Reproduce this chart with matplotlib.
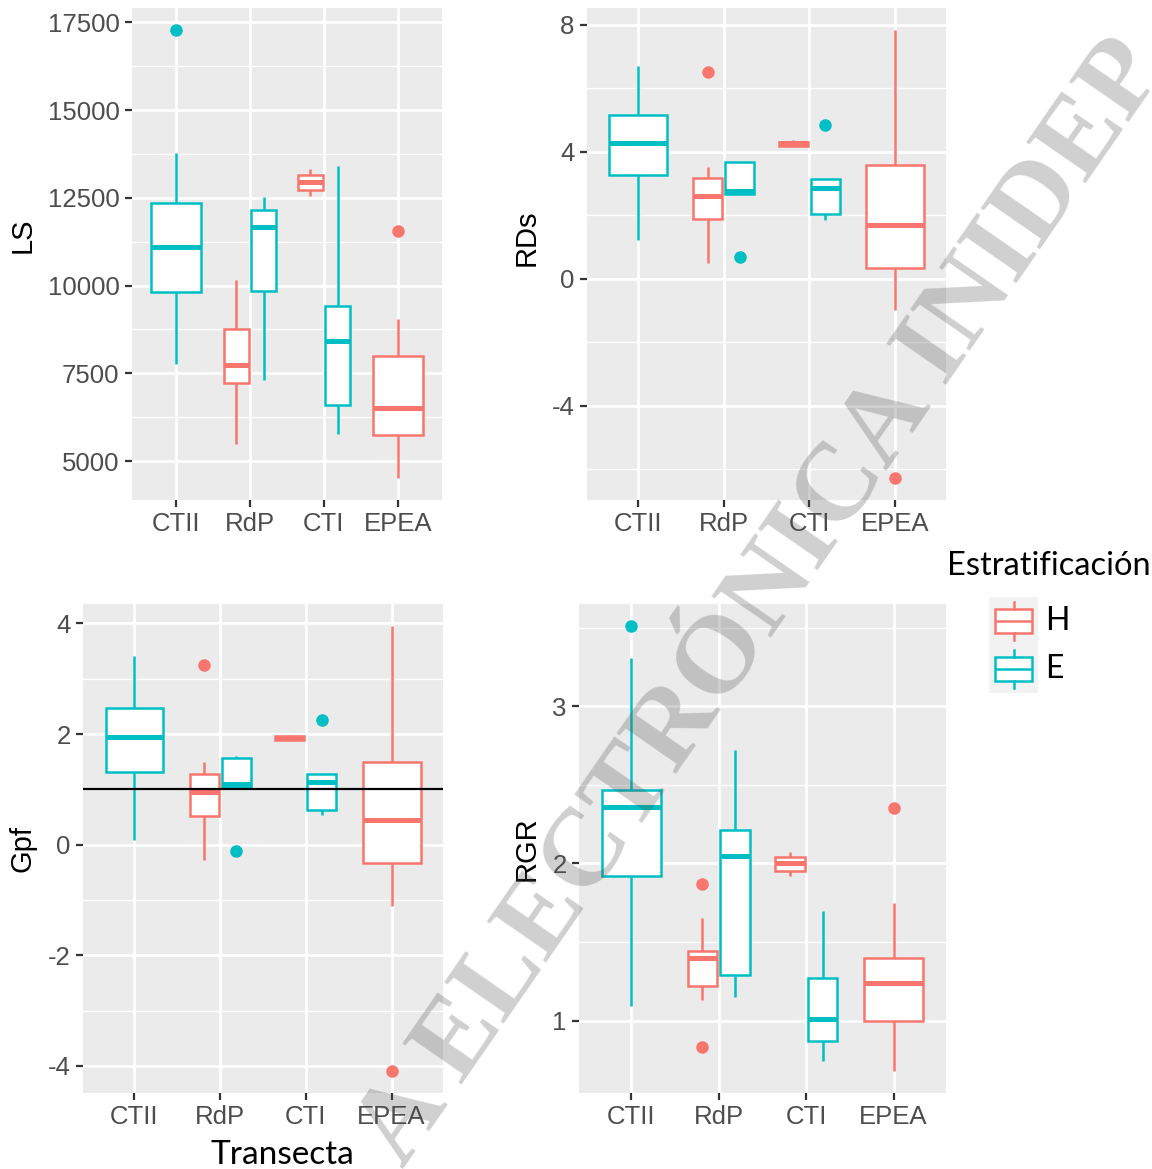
import matplotlib
matplotlib.use('Agg')
import matplotlib.pyplot as plt
from matplotlib.patches import Rectangle
from matplotlib.lines import Line2D

plt.rcParams['axes.unicode_minus'] = False

# ---------------- data ----------------
categories = ['CTII', 'RdP', 'CTI', 'EPEA']
group_labels = ['H', 'E']
legend_title = 'Estratificación'
x_title = 'Transecta'

# each entry: (whislo, q1, median, q3, whishi) per category, None when absent
LS_H = [None, (5501, 7234, 7724, 8756, 10158), (12562, 12732, 12953, 13153, 13313), (4529, 5751, 6502, 8005, 9056)]
LS_H_out = [[], [], [], [11561]]
LS_E = [(7774, 9808, 11110, 12342, 13764), (7304, 9858, 11661, 12141, 12532), (5781, 6603, 8425, 9426, 13393), None]
LS_E_out = [[17270], [], [], []]
LS_ticks = [5000, 7500, 10000, 12500, 15000, 17500]

RDs_H = [None, (0.51, 1.87, 2.62, 3.17, 3.53), (4.17, 4.20, 4.27, 4.32, 4.36), (-1.00, 0.34, 1.70, 3.59, 7.83)]
RDs_H_out = [[], [6.53], [], [-6.27]]
RDs_E = [(1.22, 3.26, 4.29, 5.17, 6.70), (2.66, 2.66, 2.78, 3.67, 3.67), (1.84, 2.03, 2.87, 3.14, 3.14), None]
RDs_E_out = [[], [0.67], [4.86], []]
RDs_ticks = [-4, 0, 4, 8]

Gpf_H = [None, (-0.27, 0.51, 0.95, 1.27, 1.50), (1.87, 1.90, 1.93, 1.96, 1.99), (-1.11, -0.33, 0.45, 1.50, 3.95)]
Gpf_H_out = [[], [3.25], [], [-4.09]]
Gpf_E = [(0.09, 1.32, 1.94, 2.47, 3.42), (1.03, 1.04, 1.10, 1.57, 1.61), (0.53, 0.62, 1.13, 1.27, 1.27), None]
Gpf_E_out = [[], [-0.12], [2.25], []]
Gpf_ticks = [-4, -2, 0, 2, 4]
Gpf_ref = 1.0

RGR_H = [None, (1.13, 1.22, 1.40, 1.44, 1.65), (1.92, 1.95, 2.00, 2.04, 2.07), (0.68, 1.00, 1.24, 1.40, 1.75)]
RGR_H_out = [[], [1.87, 0.83], [], [2.35]]
RGR_E = [(1.09, 1.92, 2.36, 2.47, 3.31), (1.15, 1.29, 2.05, 2.21, 2.72), (0.74, 0.87, 1.01, 1.27, 1.70), None]
RGR_E_out = [[3.51], [], [], []]
RGR_ticks = [1, 2, 3]

watermark = 'A ELECTRÓNICA INIDEP'

# ---------------- style ----------------
COL = {'H': '#F8766D', 'E': '#00BFC4'}
W, H = 1152, 1169
fig = plt.figure(figsize=(W / 100, H / 100), dpi=100)
TICKFONT = 'Liberation Sans'
TITLEFONT = ['Lato', 'DejaVu Sans']
LW = 1.8


def add_ax(l, t, r, b):
    return fig.add_axes([l / W, 1 - b / H, (r - l) / W, (b - t) / H])


def draw_panel(ax, sH, oH, sE, oE, ticks, ylabel, labelpad):
    allv = []
    for i in range(len(categories)):
        present = [(g, s, o) for g, s, o in (('H', sH[i], oH[i]), ('E', sE[i], oE[i])) if s is not None]
        n = len(present)
        w = 0.75 / n * 0.9
        for k, (g, s, o) in enumerate(present):
            pos = (i + 1) - 0.375 + 0.75 / n * (k + 0.5)
            c = COL[g]
            st = dict(whislo=s[0], q1=s[1], med=s[2], q3=s[3], whishi=s[4], fliers=o)
            allv += list(s) + list(o)
            ax.bxp([st], positions=[pos], widths=[w], patch_artist=True, showcaps=False,
                   manage_ticks=False,
                   boxprops=dict(facecolor='white', edgecolor=c, linewidth=LW),
                   whiskerprops=dict(color=c, linewidth=LW, solid_capstyle='butt'),
                   medianprops=dict(color=c, linewidth=LW * 2, solid_capstyle='butt'),
                   flierprops=dict(marker='o', markerfacecolor=c, markeredgecolor=c,
                                   markersize=8))
    lo, hi = min(allv), max(allv)
    pad = 0.05 * (hi - lo)
    ax.set_xlim(0.4, len(categories) + 0.6)
    ax.set_facecolor('#EBEBEB')
    for sp in ax.spines.values():
        sp.set_visible(False)
    ax.set_xticks(range(1, len(categories) + 1))
    ax.set_xticklabels(categories)
    ax.set_yticks(ticks)
    ax.set_yticklabels([str(t) for t in ticks])
    step = ticks[1] - ticks[0]
    minors = [ticks[0] - step / 2] + [t + step / 2 for t in ticks]
    ax.set_yticks(minors, minor=True)
    ax.set_ylim(lo - pad, hi + pad)
    ax.set_axisbelow(True)
    ax.grid(which='major', color='white', linewidth=2.0)
    ax.grid(which='minor', axis='y', color='white', linewidth=1.0)
    ax.tick_params(which='major', length=5, width=1.6, color='#333333', labelcolor='#4D4D4D',
                   labelsize=18.5, pad=4)
    ax.tick_params(which='minor', length=0)
    for lab in ax.get_xticklabels() + ax.get_yticklabels():
        lab.set_fontfamily(TICKFONT)
    ax.set_ylabel(ylabel, fontsize=21, fontfamily=TICKFONT, color='black', labelpad=labelpad)


ax1 = add_ax(132, 8, 442, 500)
draw_panel(ax1, LS_H, LS_H_out, LS_E, LS_E_out, LS_ticks, 'LS', 8)
ax1.yaxis.label.set_y(0.539)

ax2 = add_ax(587, 8, 946, 500)
draw_panel(ax2, RDs_H, RDs_H_out, RDs_E, RDs_E_out, RDs_ticks, 'RDs', 8)
ax2.yaxis.label.set_y(0.533)

ax3 = add_ax(83, 604, 443, 1093)
draw_panel(ax3, Gpf_H, Gpf_H_out, Gpf_E, Gpf_E_out, Gpf_ticks, 'Gpf', 8)
ax3.axhline(Gpf_ref, color='black', linewidth=1.6, zorder=5)

ax4 = add_ax(579, 604, 946, 1093)
draw_panel(ax4, RGR_H, RGR_H_out, RGR_E, RGR_E_out, RGR_ticks, 'RGR', 8)

# x title
fig.text(282 / W, 1 - 1155 / H, x_title, ha='center', va='center', fontsize=24,
         fontfamily=TITLEFONT, color='black')

# legend
fig.text(947 / W, 1 - 566 / H, legend_title, ha='left', va='center', fontsize=23.5,
         fontfamily=TITLEFONT, color='black')
axl = add_ax(989, 597, 1038, 693)
axl.set_xlim(0, 1)
axl.set_ylim(0, 2)
axl.set_facecolor('#F2F2F2')
axl.set_xticks([])
axl.set_yticks([])
for sp in axl.spines.values():
    sp.set_visible(False)
for k, g in enumerate(group_labels):
    base = 1 - k  # H on top
    c = COL[g]
    axl.add_patch(Rectangle((0.125, base + 0.25), 0.75, 0.5, facecolor='white', edgecolor=c,
                            linewidth=LW))
    axl.add_line(Line2D([0.5, 0.5], [base + 0.1, base + 0.25], color=c, linewidth=LW))
    axl.add_line(Line2D([0.5, 0.5], [base + 0.75, base + 0.9], color=c, linewidth=LW))
    axl.add_line(Line2D([0.125, 0.875], [base + 0.5, base + 0.5], color=c, linewidth=LW,
                        solid_capstyle='butt'))
    fig.text(1045 / W, 1 - (621 + 48 * k) / H, g, ha='left', va='center', fontsize=23,
             fontfamily=TITLEFONT, color='black')

# watermark
fig.text(762 / W, 1 - 603 / H, watermark, rotation=55.3, rotation_mode='anchor',
         ha='center', va='center', fontsize=80, fontfamily='Liberation Serif',
         fontweight='bold', color='#4f4f4f', alpha=0.27, zorder=10)

fig.savefig('out.png', dpi=100)
